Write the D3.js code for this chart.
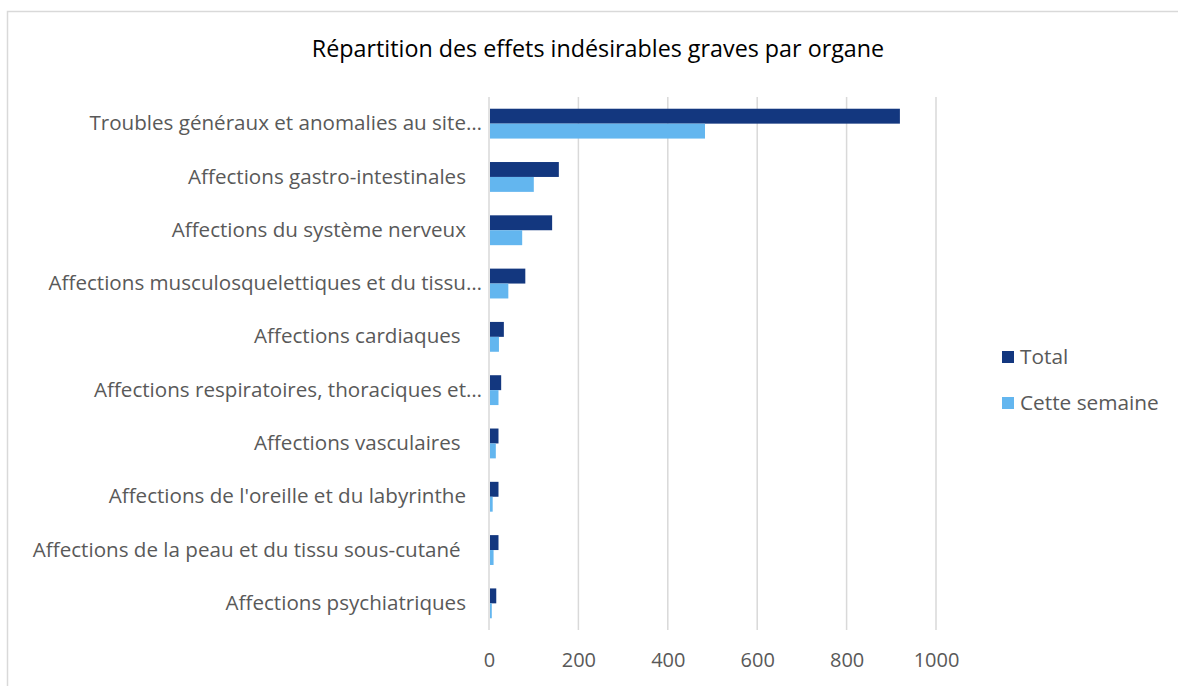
<!DOCTYPE html>
<html>
<head>
<meta charset="utf-8">
<title>Répartition des effets indésirables graves par organe</title>
<script src="https://cdn.jsdelivr.net/npm/d3@7"></script>
<style>
    html, body { margin: 0; padding: 0; background: #fff; overflow: hidden; }
    .lbl { font-family: "Open Sans", sans-serif; fill: #595959; }
</style>
</head>
<body>
<script>
    // data (some source labels carry a trailing space)
    var categories = [
        "Troubles généraux et anomalies au site…",
        "Affections gastro-intestinales",
        "Affections du système nerveux",
        "Affections musculosquelettiques et du tissu…",
        "Affections cardiaques\u00a0",
        "Affections respiratoires, thoraciques et…",
        "Affections vasculaires\u00a0",
        "Affections de l'oreille et du labyrinthe",
        "Affections de la peau et du tissu sous-cutané\u00a0",
        "Affections psychiatriques"
    ];
    var totalValues = [917, 154, 139, 79, 31, 25, 19, 19, 19, 14];
    var weekValues = [481, 98, 72, 41, 20, 19, 13, 6, 8, 4];
    var seriesNames = ["Total", "Cette semaine"];
    var xTicks = [0, 200, 400, 600, 800, 1000];

    var W = 1178, H = 686;
    var colors = ["#13377f", "#63b6ef"];

    var svg = d3.select("body").append("svg")
        .attr("width", W)
        .attr("height", H)
        .style("display", "block");

    // outer frame (only top and left edges are in the picture)
    svg.append("path")
        .attr("d", "M7.5," + H + "V11.5H" + W)
        .attr("fill", "none")
        .attr("stroke", "#d9d9d9").attr("stroke-width", 1.5);

    svg.append("text")
        .attr("class", "lbl")
        .attr("x", 598).attr("y", 57)
        .attr("text-anchor", "middle")
        .style("font-size", "23.3px")
        .style("fill", "#000")
        .text("Répartition des effets indésirables graves par organe");

    var x = d3.scaleLinear().domain([0, 1000]).range([489, 936]);
    var y = d3.scaleBand().domain(categories).range([97, 630]).paddingInner(0.44).paddingOuter(0.22);
    var sub = d3.scaleBand().domain(seriesNames).range([0, y.bandwidth()]);

    // gridlines
    svg.append("g").selectAll("line")
        .data(xTicks)
        .enter().append("line")
        .attr("x1", function (d) { return x(d); })
        .attr("x2", function (d) { return x(d); })
        .attr("y1", 97).attr("y2", 630)
        .attr("stroke", "#d9d9d9")
        .attr("stroke-width", 1.5);

    // x axis labels
    var xAxis = d3.axisBottom(x).tickValues(xTicks).tickFormat(d3.format("d")).tickSize(0).tickPadding(0);
    var gx = svg.append("g")
        .attr("transform", "translate(0,648)")
        .call(xAxis);
    gx.select(".domain").remove();
    gx.selectAll("text")
        .attr("class", "lbl")
        .attr("dy", "0.95em")
        .style("font-size", "20px")
        .style("fill", "#595959");

    // y axis labels
    var yAxis = d3.axisLeft(y).tickSize(0).tickPadding(0);
    var gy = svg.append("g")
        .attr("transform", "translate(466,0)")
        .call(yAxis);
    gy.select(".domain").remove();
    gy.selectAll("text")
        .attr("class", "lbl")
        .attr("dx", function (d) { return d.slice(-1) === "…" ? 16 : 0; })
        .style("white-space", "pre")
        .style("font-size", "20.6px")
        .style("fill", "#595959");

    // bars
    var seriesData = [totalValues, weekValues];
    seriesData.forEach(function (vals, s) {
        svg.append("g").selectAll("rect")
            .data(vals)
            .enter().append("rect")
            .attr("x", x(0) + 1)
            .attr("y", function (d, i) { return y(categories[i]) + sub(seriesNames[s]); })
            .attr("width", function (d) { return x(d) - x(0); })
            .attr("height", sub.bandwidth())
            .attr("fill", colors[s]);
    });

    // legend
    var leg = svg.append("g").selectAll("g")
        .data(seriesNames)
        .enter().append("g")
        .attr("transform", function (d, i) { return "translate(1002," + (357 + i * 46) + ")"; });
    leg.append("rect")
        .attr("x", 0).attr("y", -6)
        .attr("width", 12).attr("height", 12)
        .attr("fill", function (d, i) { return colors[i]; });
    leg.append("text")
        .attr("class", "lbl")
        .attr("x", 18).attr("y", 0)
        .attr("dy", "0.35em")
        .style("font-size", "20.8px")
        .text(function (d) { return d; });
</script>
</body>
</html>
